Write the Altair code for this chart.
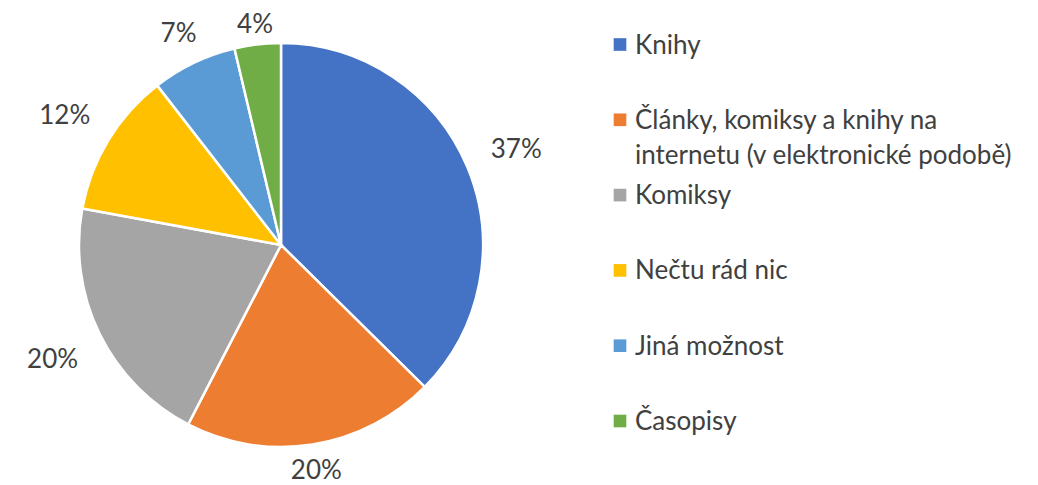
import altair as alt
import pandas as pd

categories = [
    "Knihy",
    "Články, komiksy a knihy na\ninternetu (v elektronické podobě)",
    "Komiksy",
    "Nečtu rád nic",
    "Jiná možnost",
    "Časopisy",
]
shares = [37.4, 20.2, 20.3, 11.6, 6.8, 3.7]
colors = ["#4472C4", "#ED7D31", "#A5A5A5", "#FFC000", "#5B9BD5", "#70AD47"]

df = pd.DataFrame({"cat": categories, "share": shares, "idx": list(range(len(categories)))})

FONT = "Lato"
TXT = "#404040"

color_scale = alt.Scale(domain=categories, range=colors)

base = alt.Chart(df)

arcs = base.mark_arc(outerRadius=202, stroke="white", strokeWidth=2.5).encode(
    theta=alt.Theta("share:Q", stack=True),
    order=alt.Order("idx:Q"),
    color=alt.Color("cat:N", scale=color_scale, legend=None),
)

labels = base.transform_joinaggregate(
    total="sum(share)"
).transform_window(
    cum="sum(share)", sort=[alt.SortField("idx")], frame=[None, 0]
).transform_calculate(
    mid="2*PI*(datum.cum - datum.share/2)/datum.total",
).transform_calculate(
    lr="210 + 45*abs(sin(datum.mid)) + 9*abs(cos(datum.mid))",
    lbl="format(datum.share/100, '.0%')",
).mark_text(font=FONT, fontSize=26, color=TXT, align="center", baseline="middle", dy=3).encode(
    theta=alt.Theta("mid:Q", scale=None),
    radius=alt.Radius("lr:Q", scale=None),
    text="lbl:N",
)

pie = alt.layer(arcs, labels).properties(width=546, height=474)

yscale = alt.Scale(domain=categories, type="point", range=[36.5, 413], padding=0)

squares = base.mark_square(size=160, opacity=1, filled=True).encode(
    x=alt.value(66),
    y=alt.Y("cat:N", scale=yscale, axis=None),
    color=alt.Color("cat:N", scale=color_scale, legend=None),
)

texts = base.mark_text(
    font=FONT, fontSize=26, color=TXT, align="left", baseline="alphabetic",
    dy=9, lineBreak="\n", lineHeight=35,
).encode(
    x=alt.value(81),
    y=alt.Y("cat:N", scale=yscale, axis=None),
    text="cat:N",
)

legend = alt.layer(squares, texts).properties(width=468, height=474)

chart = alt.hconcat(pie, legend, spacing=0).properties(
    padding=0, background="white"
).configure_view(stroke=None)

chart.save("out.html", embed_options={"renderer": "svg", "actions": False})
